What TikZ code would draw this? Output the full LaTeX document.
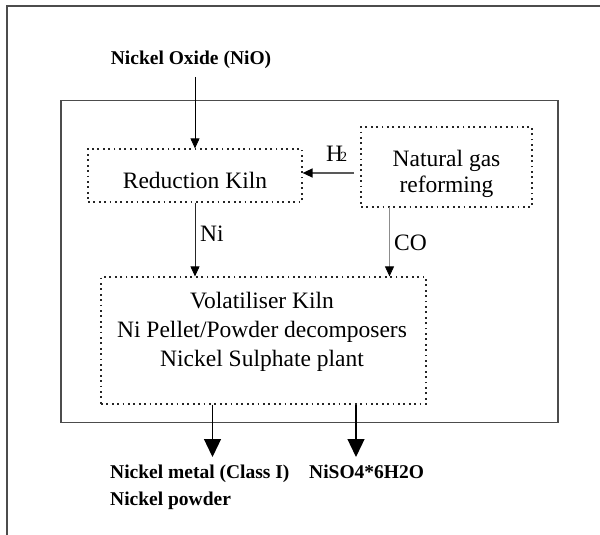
\documentclass[tikz,border=0pt]{standalone}
\usepackage{fontspec}
\setmainfont{Liberation Serif}
\usetikzlibrary{arrows.meta}
\begin{document}
\begin{tikzpicture}[x=1pt,y=-1pt,
  frame/.style={draw=black!70, line width=1.3pt},
  dotbox/.style={draw=black!85, line width=1.2pt, dash pattern=on 1.8pt off 3.6pt, inner sep=0},
  lbl/.style={font=\fontsize{19.5}{23}\selectfont\bfseries, inner sep=0},
  txt/.style={font=\fontsize{23.5}{29}\selectfont, inner sep=0, align=center},
  tip/.style={-{Triangle[length=10pt,width=9pt,color=black]}},
  thinarrow/.style={draw=black, line width=0.8pt, tip},
  thickarrow/.style={draw=black, line width=1.3pt, -{Triangle[length=18pt,width=17pt]}}]
\useasboundingbox (0,0) rectangle (600,535);
\draw[frame] (7,535) -- (7,6) -- (600,6);
\draw[frame] (61,100.5) rectangle (558,422.5);
% top label
\node[lbl, anchor=base] (nio) at (191,65) {Nickel Oxide (NiO)};
% boxes
\node[dotbox, minimum width=214pt, minimum height=53pt] (red) at (195,175.5) {};
\node[txt, anchor=base] (redtxt) at (195,188) {Reduction Kiln};
\node[dotbox, minimum width=171pt, minimum height=80pt] (nat) at (446.5,167) {};
\node[txt, anchor=base] (nattxt1) at (446.5,166) {Natural gas};
\node[txt, anchor=base] (nattxt2) at (446.5,192.5) {reforming};
\node[dotbox, minimum width=325pt, minimum height=127pt] (vol) at (263.5,340.5) {};
\node[txt, anchor=base] (vt1) at (262,308.3) {Volatiliser Kiln};
\node[txt, anchor=base] (vt2) at (262,337.3) {Ni Pellet/Powder decomposers};
\node[txt, anchor=base] (vt3) at (262,366) {Nickel Sulphate plant};
% arrows
\draw[thinarrow, shorten <=12pt] (nio.base -| red.north) -- (red.north);
\coordinate (h2start) at (354,173);
\draw[thinarrow, draw=black!65, line width=1.4pt] (h2start) -- (h2start -| red.east);
\node[txt, anchor=base west] (h2) at (326,161) {H\kern-3pt{\fontsize{14}{14}\selectfont 2}};
\draw[thinarrow, draw=black!85] (red.south) -- (red.south |- vol.north);
\node[txt, anchor=base west] (ni) at (200,241.5) {Ni};
\coordinate (cotop) at (389.5,207);
\draw[thinarrow, draw=black!45] (cotop) -- (cotop |- vol.north);
\node[txt, anchor=base west] (co) at (394,250.5) {CO};
% outputs
\coordinate (out1) at (212.5,457);
\coordinate (out2) at (356,457);
\draw[thickarrow] (out1 |- vol.south) -- (out1);
\draw[thickarrow] (out2 |- vol.south) -- (out2);
\node[lbl, anchor=base west] (metal) at (110,478) {Nickel metal (Class I)};
\node[lbl, anchor=base west] (niso) at (309,478) {NiSO4*6H2O};
\node[lbl, anchor=base west] (powder) at (110,505.5) {Nickel powder};
\end{tikzpicture}
\end{document}
